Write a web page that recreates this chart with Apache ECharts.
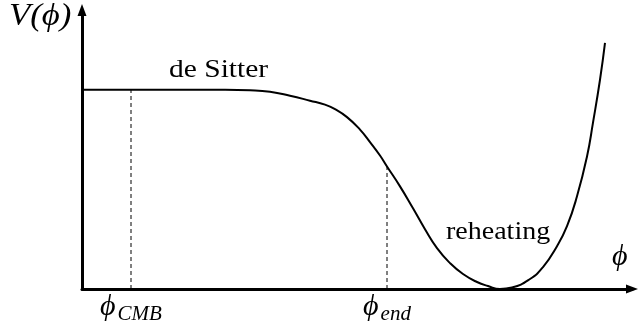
<!DOCTYPE html>
<html>
<head>
<meta charset="utf-8">
<script src="https://cdn.jsdelivr.net/npm/echarts@6/dist/echarts.min.js"></script>
<style>
  html, body { margin: 0; padding: 0; background: #fff; }
  #chart { width: 639px; height: 325px; }
</style>
</head>
<body>
<div id="chart"></div>
<script>
// Inflaton potential V(phi): plateau (de Sitter), steep fall, reheating minimum
const phiValues = [0, 2.86, 3.36, 3.76, 4.16, 4.56, 4.86, 5.06, 5.30, 5.56, 5.76, 5.96, 6.10, 6.36, 6.62, 6.86, 7.10, 7.36, 7.62, 7.90, 8.12, 8.36, 8.60, 8.96, 9.22, 9.50, 9.70, 9.90, 10.10, 10.22, 10.36, 10.46];
const potentialValues = [4.00, 4.00, 3.99, 3.96, 3.88, 3.78, 3.70, 3.61, 3.45, 3.20, 2.95, 2.68, 2.46, 2.06, 1.62, 1.20, 0.82, 0.52, 0.30, 0.14, 0.06, 0.00, 0.03, 0.20, 0.44, 0.86, 1.26, 1.86, 2.66, 3.34, 4.20, 4.94];

// Marked field values on the phi axis and the potential there
const phiCMB = 0.98;
const phiEnd = 6.10;
const potentialAtCMB = 4.00;
const potentialAtEnd = 2.46;

const tickNames = { cmb: 'CMB', end: 'end' };

const curve = phiValues.map((p, i) => [p, potentialValues[i]]);

const serifFamily = "'Liberation Serif', 'Times New Roman', 'DejaVu Serif', serif";

const chart = echarts.init(document.getElementById('chart'), null, { renderer: 'canvas' });

chart.setOption({
  animation: false,
  backgroundColor: '#ffffff',
  grid: { left: 82, right: 7, top: 10, bottom: 35, containLabel: false },
  xAxis: {
    type: 'value',
    min: 0,
    max: 11,
    splitLine: { show: false },
    axisTick: { show: false },
    axisLine: {
      show: true,
      onZero: false,
      symbol: ['none', 'triangle'],
      symbolSize: [9, 12],
      lineStyle: { color: '#000', width: 3 }
    },
    axisLabel: {
      show: true,
      customValues: [phiCMB, phiEnd],
      margin: 5,
      formatter: function (v) {
        const sub = Math.abs(v - phiCMB) < 1e-6 ? tickNames.cmb : tickNames.end;
        return '{p|\u03D5}{s|' + sub + '}';
      },
      rich: {
        p: { fontFamily: serifFamily, fontStyle: 'italic', fontSize: 30, color: '#000', verticalAlign: 'bottom', lineHeight: 28 },
        s: { fontFamily: serifFamily, fontStyle: 'italic', fontSize: 21, color: '#000', verticalAlign: 'bottom', lineHeight: 20, padding: [0, 0, -3, 2] }
      }
    }
  },
  yAxis: {
    type: 'value',
    min: 0,
    max: 5.6,
    splitLine: { show: false },
    axisTick: { show: false },
    axisLabel: { show: false },
    axisLine: {
      show: true,
      onZero: false,
      symbol: ['none', 'triangle'],
      symbolSize: [9, 12],
      lineStyle: { color: '#000', width: 3 }
    }
  },
  series: [
    {
      name: 'V',
      type: 'line',
      data: curve,
      smooth: 0.5,
      showSymbol: false,
      lineStyle: { color: '#000', width: 2 },
      z: 3
    },
    {
      name: 'cmb',
      type: 'line',
      data: [[phiCMB, 0], [phiCMB, potentialAtCMB]],
      showSymbol: false,
      lineStyle: { color: '#000', width: 1, type: [4, 3] },
      z: 2
    },
    {
      name: 'end',
      type: 'line',
      data: [[phiEnd, 0], [phiEnd, potentialAtEnd]],
      showSymbol: false,
      lineStyle: { color: '#000', width: 1, type: [4, 3] },
      z: 2
    }
  ],
  graphic: [
    {
      type: 'text', left: 9, top: 1, scaleX: 1.12,
      style: { text: 'V(\u03D5)', font: "italic 31px " + serifFamily, fill: '#000' }
    },
    {
      type: 'text', left: 612, top: 242,
      style: { text: '\u03D5', font: "italic 30px " + serifFamily, fill: '#000' }
    },
    {
      type: 'text', left: 169, top: 58, scaleX: 1.18,
      style: { text: 'de Sitter', font: "25px " + serifFamily, fill: '#000' }
    },
    {
      type: 'text', left: 446, top: 220, scaleX: 1.12,
      style: { text: 'reheating', font: "25px " + serifFamily, fill: '#000' }
    }
  ]
});
</script>
</body>
</html>
